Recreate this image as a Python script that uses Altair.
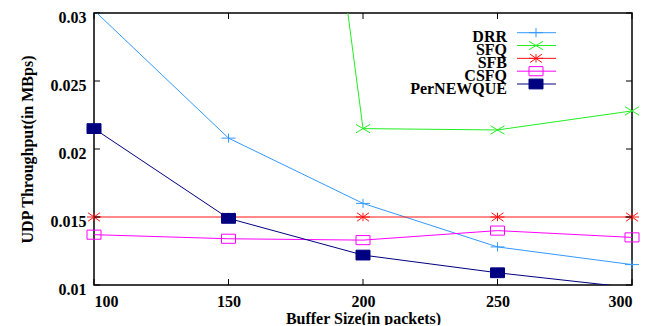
import altair as alt
import pandas as pd

# ---- data ----
buffer_sizes = [100, 150, 200, 250, 300]
series_names = ["DRR", "SFQ", "SFB", "CSFQ", "PerNEWQUE"]
drr = [0.0302, 0.0208, 0.0160, 0.0128, 0.0115]
sfq = [0.100, 0.097, 0.0215, 0.0214, 0.0228]
sfb = [0.0150, 0.0150, 0.0150, 0.0150, 0.0150]
csfq = [0.0137, 0.0134, 0.0133, 0.0140, 0.0135]
pernewque = [0.0215, 0.0149, 0.0122, 0.0109, 0.0098]

y_ticks = [0.01, 0.015, 0.02, 0.025, 0.03]
x_ticks = [100, 150, 200, 250, 300]
y_min, y_max = 0.01, 0.03

colors = ["#3399ff", "#22ee22", "#ff1111", "#ff00ff", "#000080"]
shapes = [
    "M-1,0H1M0,-0.65V0.65",
    "M-1,-0.6L1,0.6M-1,0.6L1,-0.6",
    "M-1,0H1M0,-0.6V0.6M-0.85,-0.6L0.85,0.6M-0.85,0.6L0.85,-0.6",
    "M-1,-0.65H1V0.65H-1Z",
    "M-1,-0.7H1V0.7H-1Z",
]
fills = ["transparent", "transparent", "transparent", "transparent", "#000080"]

FONT = "Liberation Serif"
W, H = 538, 272

rows = []
for name, vals in zip(series_names, [drr, sfq, sfb, csfq, pernewque]):
    for x, v in zip(buffer_sizes, vals):
        rows.append({"series": name, "buffer": x, "value": v})
df = pd.DataFrame(rows)

xscale = alt.Scale(domain=[100, 300], nice=False, zero=False)
yscale = alt.Scale(domain=[y_min, y_max], nice=False, zero=False)
cscale = alt.Scale(domain=series_names, range=colors)
sscale = alt.Scale(domain=series_names, range=shapes)
fscale = alt.Scale(domain=series_names, range=fills)

xa = alt.Axis(values=x_ticks, format="d", title="Buffer Size(in packets)",
              ticks=False, domain=False, grid=False, labelPadding=8, titlePadding=1)
ya = alt.Axis(values=y_ticks, format="~g", title="UDP Throughput(in MBps)",
              ticks=False, domain=False, grid=False, labelPadding=8, labelOffset=4,
              titlePadding=15)

base = alt.Chart(df)

lines = base.mark_line(clip=True, strokeWidth=1).encode(
    x=alt.X("buffer:Q", scale=xscale, axis=xa),
    y=alt.Y("value:Q", scale=yscale, axis=ya),
    color=alt.Color("series:N", scale=cscale, legend=None),
    order=alt.Order("buffer:Q"),
)

points = base.mark_point(size=196, strokeWidth=1, opacity=1).encode(
    x=alt.X("buffer:Q", scale=xscale, axis=xa),
    y=alt.Y("value:Q", scale=yscale, axis=ya),
    color=alt.Color("series:N", scale=cscale, legend=None),
    shape=alt.Shape("series:N", scale=sscale, legend=None),
    fill=alt.Fill("series:N", scale=fscale, legend=None),
).transform_filter(
    (alt.datum.value >= y_min) & (alt.datum.value <= y_max)
)

ydf = pd.DataFrame({"t": y_ticks})
xdf = pd.DataFrame({"t": x_ticks})

yt_left = alt.Chart(ydf).mark_rule(color="black", strokeWidth=1).encode(
    y=alt.Y("t:Q", scale=yscale, axis=ya), x=alt.value(0), x2=alt.value(6))
yt_right = alt.Chart(ydf).mark_rule(color="black", strokeWidth=1).encode(
    y=alt.Y("t:Q", scale=yscale, axis=ya), x=alt.value(W - 6), x2=alt.value(W))
xt_top = alt.Chart(xdf).mark_rule(color="black", strokeWidth=1).encode(
    x=alt.X("t:Q", scale=xscale, axis=xa), y=alt.value(0), y2=alt.value(6))
xt_bot = alt.Chart(xdf).mark_rule(color="black", strokeWidth=1).encode(
    x=alt.X("t:Q", scale=xscale, axis=xa), y=alt.value(H - 6), y2=alt.value(H))

main = alt.layer(lines, points, yt_left, yt_right, xt_top, xt_bot)

# ---- legend (top right, labels to the left of the samples) ----
ldf = pd.DataFrame({"series": series_names, "row": list(range(len(series_names)))})
ly = alt.Y("row:O", scale=alt.Scale(type="point", domain=list(range(5)),
                                    range=[19.7, 71], padding=0), axis=None)
lbase = alt.Chart(ldf)
leg_text = lbase.mark_text(align="right", baseline="alphabetic", dy=9.5,
                           font=FONT, fontSize=16, fontWeight="bold", color="black").encode(
    y=ly, x=alt.value(413), text="series:N")
leg_line = lbase.mark_rule(strokeWidth=1).encode(
    y=ly, x=alt.value(423), x2=alt.value(462),
    color=alt.Color("series:N", scale=cscale, legend=None))
leg_pt = lbase.mark_point(size=196, strokeWidth=1, opacity=1).encode(
    y=ly, x=alt.value(442),
    color=alt.Color("series:N", scale=cscale, legend=None),
    shape=alt.Shape("series:N", scale=sscale, legend=None),
    fill=alt.Fill("series:N", scale=fscale, legend=None))
legend = alt.layer(leg_text, leg_line, leg_pt)

chart = alt.layer(main, legend).resolve_scale(
    y="independent", x="independent", color="independent",
    shape="independent", fill="independent"
).properties(
    width=W, height=H,
    autosize=alt.AutoSizeParams(type="none"),
    padding={"left": 86, "top": 5, "right": 22, "bottom": 40},
).configure_view(
    stroke="black", strokeWidth=1.5
).configure_axis(
    labelFont=FONT, labelFontSize=16, labelFontWeight="bold", labelColor="black",
    titleFont=FONT, titleFontSize=16, titleFontWeight="bold", titleColor="black",
)

chart.save("out.html", embed_options={"renderer": "svg", "actions": False})
